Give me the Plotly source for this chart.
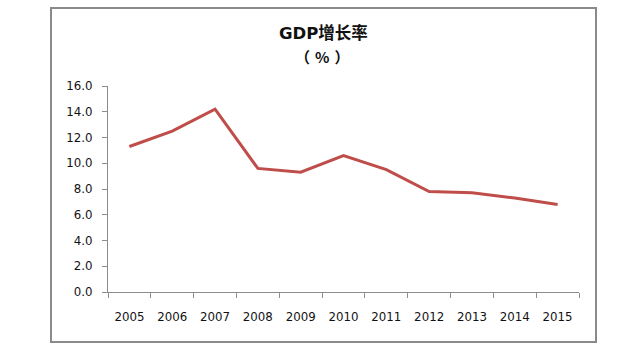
import plotly.graph_objects as go

years = ["2005", "2006", "2007", "2008", "2009", "2010", "2011", "2012", "2013", "2014", "2015"]
gdp_growth = [11.3, 12.5, 14.2, 9.6, 9.3, 10.6, 9.5, 7.8, 7.7, 7.3, 6.8]
y_ticks = [0, 2, 4, 6, 8, 10, 12, 14, 16]

W, H = 633, 347
L, R, T, B = 108, 54, 86, 55
pw, ph = W - L - R, H - T - B

def px_x(x):
    return (x - L) / pw

def px_y(y):
    return (H - B - y) / ph

font_family = "DejaVu Sans, Noto Sans CJK SC, sans-serif"
cjk_family = "Noto Sans CJK SC, DejaVu Sans, sans-serif"

fig = go.Figure(
    go.Scatter(
        x=years,
        y=gdp_growth,
        mode="lines",
        line=dict(color="#BF4D4A", width=3),
        hoverinfo="x+y",
    )
)

fig.update_layout(
    width=W,
    height=H,
    margin=dict(l=L, r=R, t=T, b=B),
    paper_bgcolor="white",
    plot_bgcolor="white",
    showlegend=False,
    font=dict(family=font_family, size=11.5, color="#111111"),
    xaxis=dict(
        type="category",
        range=[-0.5, len(years) - 0.5],
        tickson="boundaries",
        ticks="outside",
        ticklen=5,
        tickcolor="#8C8C8C",
        showline=True,
        linecolor="#8C8C8C",
        linewidth=1,
        showgrid=False,
        zeroline=False,
        ticklabelstandoff=14,
        tickfont=dict(family=font_family, size=11.8, color="#111111"),
    ),
    yaxis=dict(
        range=[0, 16],
        tickvals=y_ticks,
        tickformat=".1f",
        ticks="outside",
        ticklen=5,
        tickcolor="#8C8C8C",
        showline=True,
        linecolor="#8C8C8C",
        linewidth=1,
        showgrid=False,
        zeroline=False,
        ticklabelstandoff=7,
        tickfont=dict(family=font_family, size=11.8, color="#111111"),
    ),
    shapes=[
        dict(
            type="rect",
            xref="paper",
            yref="paper",
            x0=px_x(51),
            x1=px_x(596),
            y0=px_y(342),
            y1=px_y(8),
            line=dict(color="#8A8A8A", width=2),
            fillcolor="rgba(0,0,0,0)",
            layer="below",
        )
    ],
    annotations=[
        dict(
            text="<b>GDP增长率</b>",
            xref="paper",
            yref="paper",
            x=px_x(323),
            y=px_y(33),
            xanchor="center",
            yanchor="middle",
            showarrow=False,
            font=dict(family=font_family, size=16.5, color="#111111"),
        ),
        dict(
            text="<b>（\u2004%\u2004）</b>",
            xref="paper",
            yref="paper",
            x=px_x(322),
            y=px_y(56),
            xanchor="center",
            yanchor="middle",
            showarrow=False,
            font=dict(family=cjk_family, size=15, color="#111111"),
        ),
    ],
)

fig.write_html("out.html")
